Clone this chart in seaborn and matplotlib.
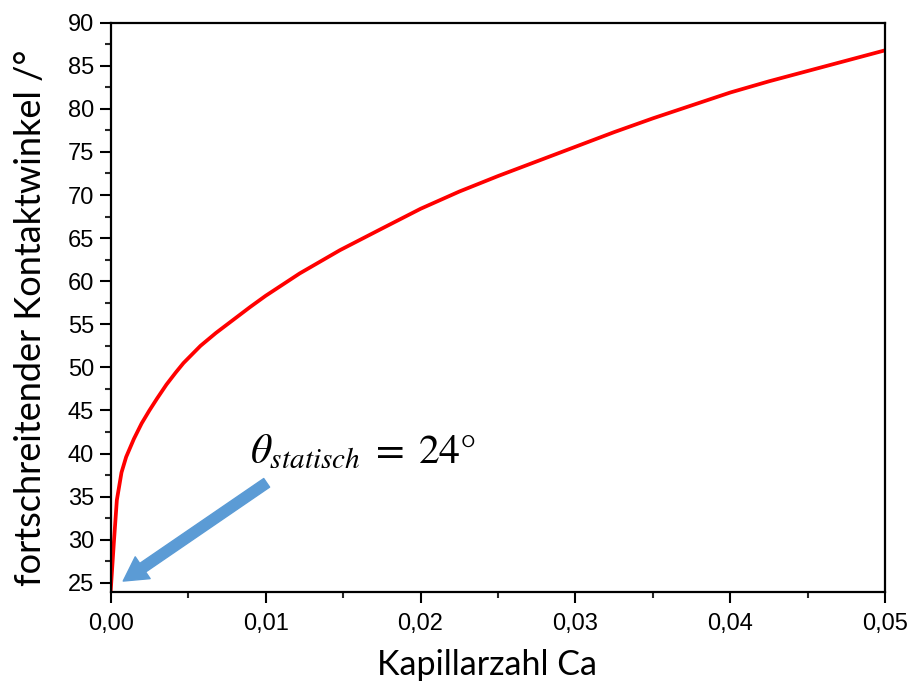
import matplotlib
matplotlib.use("Agg")
import matplotlib.pyplot as plt
import seaborn as sns
import pandas as pd

# --- Data ---
kapillarzahl = [0.0, 0.0002, 0.0004, 0.0007, 0.001, 0.0015, 0.002, 0.0025,
                0.003, 0.0036, 0.0042, 0.0047, 0.0058, 0.0068, 0.0079, 0.009,
                0.01, 0.0122, 0.0148, 0.0175, 0.02, 0.0225, 0.025, 0.0275,
                0.03, 0.0325, 0.035, 0.0375, 0.04, 0.0425, 0.045, 0.0475, 0.05]
kontaktwinkel = [24.0, 29.5, 34.6, 37.8, 39.6, 41.7, 43.5, 45.0,
                 46.4, 48.0, 49.4, 50.5, 52.5, 54.0, 55.5, 57.0,
                 58.3, 60.9, 63.6, 66.1, 68.4, 70.4, 72.2, 73.9,
                 75.6, 77.3, 78.9, 80.4, 81.9, 83.2, 84.4, 85.6, 86.8]
x_ticks = [0.0, 0.01, 0.02, 0.03, 0.04, 0.05]
x_tick_labels = ["0,00", "0,01", "0,02", "0,03", "0,04", "0,05"]
y_ticks = [25, 30, 35, 40, 45, 50, 55, 60, 65, 70, 75, 80, 85, 90]

df = pd.DataFrame({"Ca": kapillarzahl, "theta": kontaktwinkel})

sns.set_style("ticks")
plt.rcParams["font.family"] = ["Liberation Sans", "DejaVu Sans"]
plt.rcParams["mathtext.fontset"] = "stix"

fig = plt.figure(figsize=(9.13, 6.81), dpi=100)
ax = fig.add_axes([0.1212, 0.1303, 0.8485, 0.8364])

sns.lineplot(data=df, x="Ca", y="theta", ax=ax, color="#ff0000", linewidth=2.7)

ax.set_xlim(0, 0.05)
ax.set_ylim(23.9, 90)
ax.set_xticks(x_ticks)
ax.set_xticklabels(x_tick_labels)
ax.set_yticks(y_ticks)
ax.set_xticks([0.005, 0.015, 0.025, 0.035, 0.045], minor=True)
ax.set_yticks([27.5 + 5 * i for i in range(13)], minor=True)

for s in ax.spines.values():
    s.set_linewidth(1.6)
    s.set_color("black")
    s.set_visible(True)

ax.tick_params(axis="both", which="major", direction="out", length=8, width=1.5,
               labelsize=17, colors="black", pad=4)
ax.tick_params(axis="both", which="minor", direction="out", length=4.5, width=1.5)
ax.tick_params(axis="x", which="major", pad=7)

ax.set_xlabel("Kapillarzahl Ca", family=["Lato", "DejaVu Sans"], size=24.5, color="black")
ax.set_ylabel("fortschreitender Kontaktwinkel /°", family=["Lato", "DejaVu Sans"],
              size=26, color="black")
ax.xaxis.set_label_coords(0.486, -0.099)
ax.yaxis.set_label_coords(-0.082, 0.482)

# annotation: static contact angle
ax.text(0.009, 38.9, r"$\theta_{statisch}\;=\;24°$", fontsize=30,
        ha="left", va="baseline", color="black")
ax.annotate("", xy=(0.00081, 25.2), xytext=(0.01007, 36.6),
            arrowprops=dict(arrowstyle="simple,head_width=19,head_length=17,tail_width=7.5",
                            mutation_scale=1, color="#5b9bd5", shrinkA=0, shrinkB=0))

fig.savefig("out.png", dpi=100)
